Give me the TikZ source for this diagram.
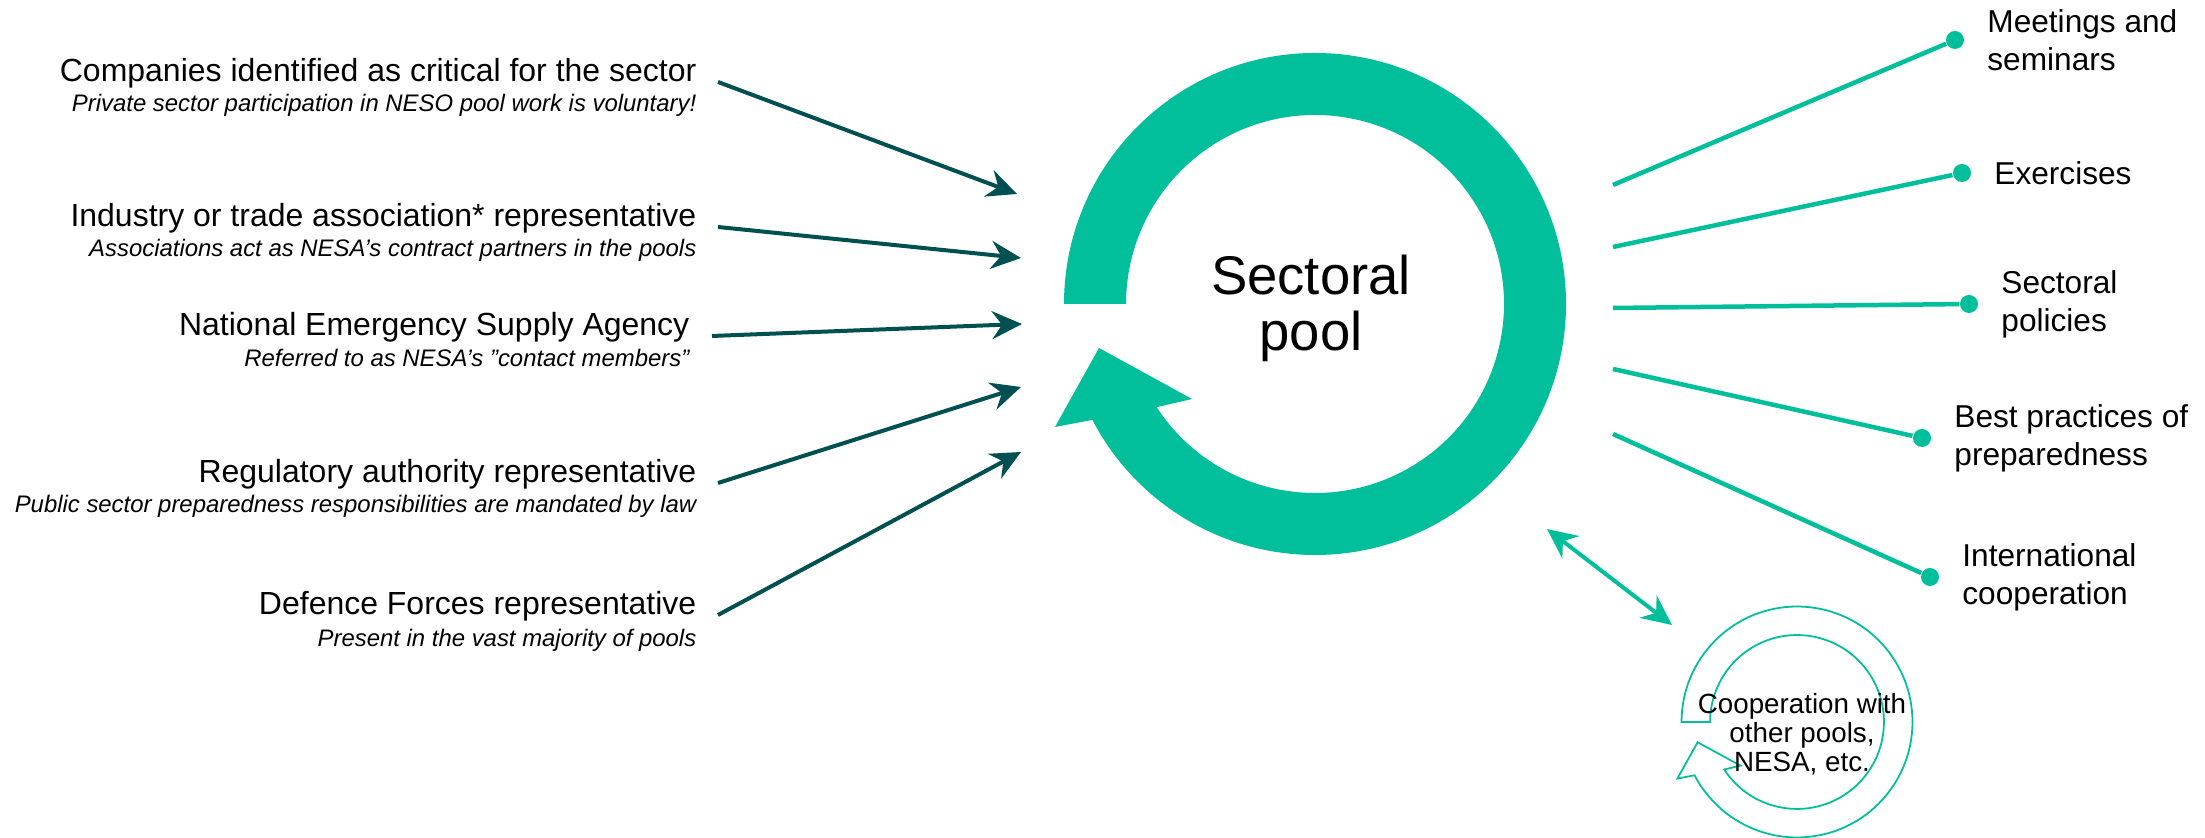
\documentclass[tikz,border=0pt]{standalone}
\usepackage{fontspec}
\setmainfont{Liberation Sans}
\usepackage{tikz}
\usetikzlibrary{positioning,arrows.meta}

\definecolor{poolgreen}{RGB}{0,191,154}
\definecolor{darkteal}{RGB}{0,80,82}

\tikzset{
  poolring/.pic={
    \path[pic actions] (-2.51,0) arc[start angle=180, end angle=-152.5, radius=2.51]
      -- (-2.60,-1.23) -- (-2.16,-0.44) -- (-1.23,-0.95)
      -- (-146.9:1.89) arc[start angle=-146.9, end angle=180, radius=1.89] -- cycle;
  },
  member/.style={anchor=base east, inner sep=0pt, font=\fontsize{9.1}{11}\selectfont},
  memnote/.style={anchor=base east, inner sep=0pt, font=\fontsize{6.8}{8}\selectfont\itshape},
  task/.style={align=left, anchor=west, inner sep=0pt, font=\fontsize{9}{10.8}\selectfont},
  enddot/.style={circle, fill=poolgreen, inner sep=0pt, minimum size=0.18cm},
  inarrow/.style={-{Stealth[length=0.30cm, width=0.28cm, inset=0.10cm]}, darkteal, line width=0.04cm},
}

\begin{document}
\begin{tikzpicture}
  \useasboundingbox (0,0) rectangle (22.05,8.38);

  % the pool itself
  \pic[fill=poolgreen] at (13.15,5.34) {poolring};
  \node[align=center, font=\fontsize{15.5}{15.9}\selectfont] (pool) at (13.11,5.30) {Sectoral\\pool};

  % members on the left
  \node[member] (l1) at (6.97,7.56) {Companies identified as critical for the sector};
  \node[below=0.30cm of l1.base east, memnote] (n1) {Private sector participation in NESO pool work is voluntary!};
  \node[member] (l2) at (6.97,6.11) {Industry or trade association* representative};
  \node[below=0.30cm of l2.base east, memnote] (n2) {Associations act as NESA’s contract partners in the pools};
  \node[member] (l3) at (6.90,5.02) {National Emergency Supply Agency};
  \node[below=0.31cm of l3.base east, memnote] (n3) {Referred to as NESA’s ”contact members”};
  \node[member] (l4) at (6.97,3.55) {Regulatory authority representative};
  \node[below=0.30cm of l4.base east, memnote] (n4) {Public sector preparedness responsibilities are mandated by law};
  \node[member] (l5) at (6.97,2.23) {Defence Forces representative};
  \node[below=0.32cm of l5.base east, memnote] (n5) {Present in the vast majority of pools};

  \coordinate (t1) at (10.17,6.44);
  \coordinate (t2) at (10.21,5.80);
  \coordinate (t3) at (10.22,5.14);
  \coordinate (t4) at (10.21,4.51);
  \coordinate (t5) at (10.21,3.86);

  \path[inarrow]
    ([xshift=0.21cm]l1.base east) edge (t1)
    ([xshift=0.21cm]l2.base east) edge (t2)
    ([xshift=0.22cm]l3.base east) edge (t3)
    ([xshift=0.21cm]l4.base east) edge (t4)
    ([xshift=0.21cm]l5.base east) edge (t5);

  % work of the pool on the right
  \node[enddot] (d1) at (19.55,7.98) {};
  \node[enddot] (d2) at (19.62,6.65) {};
  \node[enddot] (d3) at (19.69,5.34) {};
  \node[enddot] (d4) at (19.22,4.00) {};
  \node[enddot] (d5) at (19.30,2.61) {};

  \node[task, right=0.22cm of d1] (r1) {Meetings and\\seminars};
  \node[task, right=0.22cm of d2] (r2) {Exercises};
  \node[task, right=0.22cm of d3] (r3) {Sectoral\\policies};
  \node[task, right=0.22cm of d4] (r4) {Best practices of\\preparedness};
  \node[task, right=0.22cm of d5] (r5) {International\\cooperation};

  \coordinate (o1) at (16.13,6.53);
  \coordinate (o2) at (16.13,5.91);
  \coordinate (o3) at (16.13,5.30);
  \coordinate (o4) at (16.13,4.69);
  \coordinate (o5) at (16.13,4.04);

  \path[poolgreen, line width=0.045cm]
    (o1) edge (d1)
    (o2) edge (d2)
    (o3) edge (d3)
    (o4) edge (d4)
    (o5) edge (d5);

  % other pools
  \pic[draw=poolgreen, fill=white, line width=0.5pt, scale=0.46] at (17.97,1.16) {poolring};
  \node[align=center, font=\fontsize{7.9}{8.25}\selectfont] (coop) at (18.02,1.04) {Cooperation with\\other pools,\\NESA, etc.};

  \coordinate (c1) at (15.47,3.09);
  \coordinate (c2) at (16.72,2.13);
  \path[{Stealth[length=0.30cm, width=0.28cm, inset=0.10cm]}-{Stealth[length=0.30cm, width=0.28cm, inset=0.10cm]}, poolgreen, line width=0.04cm]
    (c1) edge (c2);
\end{tikzpicture}
\end{document}
